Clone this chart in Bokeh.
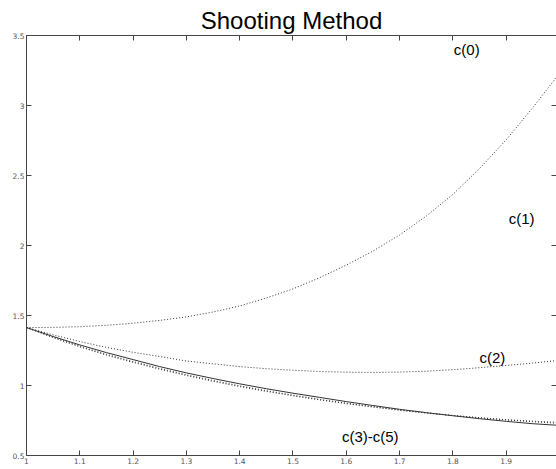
from bokeh.plotting import figure
from bokeh.models import LinearAxis, Label, Range1d, FixedTicker, Title
from bokeh.embed import file_html
from bokeh.resources import INLINE

x_vals = [1.00, 1.05, 1.10, 1.15, 1.20, 1.25, 1.30, 1.35, 1.40, 1.45, 1.50,
          1.55, 1.60, 1.65, 1.70, 1.75, 1.80, 1.85, 1.90, 1.95, 2.00]
c1 = [1.414, 1.415, 1.420, 1.430, 1.445, 1.465, 1.490, 1.525, 1.568, 1.625, 1.690,
      1.770, 1.860, 1.960, 2.075, 2.210, 2.365, 2.550, 2.755, 2.985, 3.230]
c2 = [1.414, 1.362, 1.314, 1.272, 1.237, 1.207, 1.175, 1.155, 1.135, 1.120, 1.109,
      1.100, 1.095, 1.093, 1.096, 1.102, 1.113, 1.127, 1.143, 1.160, 1.180]
c3 = [1.414, 1.342, 1.276, 1.217, 1.165, 1.116, 1.071, 1.030, 0.992, 0.958, 0.926,
      0.897, 0.870, 0.846, 0.823, 0.803, 0.785, 0.770, 0.756, 0.745, 0.737]
c4 = [1.414, 1.345, 1.281, 1.223, 1.171, 1.122, 1.077, 1.036, 0.998, 0.963, 0.931,
      0.901, 0.874, 0.849, 0.826, 0.805, 0.786, 0.769, 0.754, 0.741, 0.730]
c5 = [1.414, 1.350, 1.290, 1.235, 1.185, 1.135, 1.090, 1.050, 1.012, 0.977, 0.945,
      0.915, 0.885, 0.857, 0.830, 0.806, 0.784, 0.763, 0.744, 0.727, 0.715]

x_ticks = [1, 1.1, 1.2, 1.3, 1.4, 1.5, 1.6, 1.7, 1.8, 1.9]
y_ticks = [0.5, 1, 1.5, 2, 2.5, 3, 3.5]

labels = ["c(0)", "c(1)", "c(2)", "c(3)-c(5)"]
label_x = [1.826, 1.929, 1.874, 1.645]
label_y = [3.40, 2.193, 1.20, 0.636]

p = figure(width=556, height=469, output_backend="svg", toolbar_location=None,
           x_range=Range1d(1, 1.9944), y_range=Range1d(0.5, 3.5),
           min_border_left=26, min_border_right=0, min_border_top=35, min_border_bottom=14)
p.title = Title(text="Shooting Method", align="center", text_font="Liberation Sans",
                text_font_size="24px", text_font_style="normal", text_color="black",
                offset=0, standoff=4)
p.grid.visible = False
p.outline_line_color = None
p.background_fill_color = "white"
p.border_fill_color = "white"

dot_col = "#333333"
p.line(x_vals, c1, line_color=dot_col, line_width=1, line_dash="1 2")
p.line(x_vals, c2, line_color=dot_col, line_width=1, line_dash="1 2")
p.line(x_vals, c3, line_color=dot_col, line_width=1, line_dash="1 2")
p.line(x_vals, c4, line_color=dot_col, line_width=1, line_dash="1 2")
p.line(x_vals, c5, line_color="#333333", line_width=1)

for ax, ticks in ((p.xaxis[0], x_ticks), (p.yaxis[0], y_ticks)):
    ax.ticker = FixedTicker(ticks=ticks)
    ax.minor_tick_line_color = None
    ax.major_tick_in = 5
    ax.major_tick_out = 0
    ax.axis_line_color = "#444444"
    ax.major_tick_line_color = "#444444"
    ax.major_label_text_font = "DejaVu Sans"
    ax.major_label_text_font_size = "7.5px"
    ax.major_label_text_color = "#555555"
    ax.major_label_standoff = 2

top = LinearAxis(ticker=FixedTicker(ticks=x_ticks), major_tick_in=5, major_tick_out=0,
                 minor_tick_line_color=None, axis_line_color="#444444",
                 major_tick_line_color="#444444", major_label_text_color=None,
                 major_label_standoff=0)
p.add_layout(top, "above")
right = LinearAxis(ticker=FixedTicker(ticks=y_ticks), major_tick_in=5, major_tick_out=0,
                   minor_tick_line_color=None, axis_line_color=None,
                   major_tick_line_color="#444444", major_label_text_color=None,
                   major_label_standoff=0)
p.add_layout(right, "right")

for t, lx, ly in zip(labels, label_x, label_y):
    p.add_layout(Label(x=lx, y=ly, text=t, text_font="Liberation Sans",
                       text_font_size="15px", text_color="black",
                       text_align="center", text_baseline="middle"))

open("out.html", "w").write(file_html(p, INLINE))
